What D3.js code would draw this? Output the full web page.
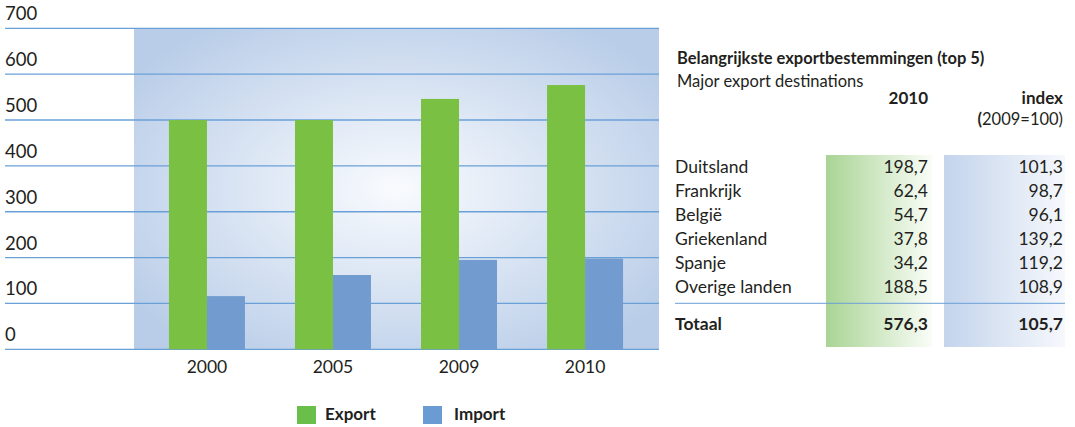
<!DOCTYPE html>
<html>
<head>
<meta charset="utf-8">
<script src="https://cdn.jsdelivr.net/npm/d3@7"></script>
<style>
  body { margin: 0; background: #fff; }
  text { font-family: Lato, "Open Sans", sans-serif; fill: #231f20; }
</style>
</head>
<body>
<script>
// chart data
var years = ["2000", "2005", "2009", "2010"];
var exportValues = [500, 500, 546, 576.3];
var importValues = [116, 162, 195, 198];
var yTicks = [0, 100, 200, 300, 400, 500, 600, 700];
var seriesNames = ["Export", "Import"];

// table data
var tableTitle = "Belangrijkste exportbestemmingen (top 5)";
var tableSubtitle = "Major export destinations";
var countries = ["Duitsland", "Frankrijk", "België", "Griekenland", "Spanje", "Overige landen"];
var values2010 = [198.7, 62.4, 54.7, 37.8, 34.2, 188.5];
var indexValues = [101.3, 98.7, 96.1, 139.2, 119.2, 108.9];
var totalLabel = "Totaal";
var total2010 = 576.3;
var totalIndex = 105.7;

var width = 1075, height = 427;
var colors = { Export: "#7ac143", Import: "#729ccf" };
var legendColors = { Export: "#6abf4b", Import: "#6b9bd3" };
var nl = d3.formatLocale({ decimal: ",", thousands: ".", grouping: [3], currency: ["€", ""] });
var fmt = nl.format(".1f");

var svg = d3.select("body").append("svg")
    .attr("width", width)
    .attr("height", height);

var defs = svg.append("defs");
var rg = defs.append("radialGradient").attr("id", "plotbg")
    .attr("cx", "50%").attr("cy", "50%").attr("r", "62%");
rg.append("stop").attr("offset", "0%").attr("stop-color", "#f9fbfe");
rg.append("stop").attr("offset", "100%").attr("stop-color", "#b9cde8");

var gg = defs.append("linearGradient").attr("id", "greencol");
gg.append("stop").attr("offset", "0%").attr("stop-color", "#a9d494");
gg.append("stop").attr("offset", "100%").attr("stop-color", "#fafdf8");
var bg = defs.append("linearGradient").attr("id", "bluecol");
bg.append("stop").attr("offset", "0%").attr("stop-color", "#c3d4ec");
bg.append("stop").attr("offset", "100%").attr("stop-color", "#f6f8fc");

// scales
var y = d3.scaleLinear().domain([0, 700]).range([349.3, 28.3]);
var x = d3.scaleBand().domain(years).range([144, 648])
    .paddingInner(0.397).paddingOuter(0.198);
var xs = d3.scaleBand().domain(seriesNames).range([0, x.bandwidth()]);

// plot background
svg.append("rect")
    .attr("x", 134).attr("y", y(700))
    .attr("width", 525).attr("height", y(0) - y(700))
    .attr("fill", "url(#plotbg)");

// gridlines and labels
var grid = svg.append("g");
grid.selectAll("line").data(yTicks).enter().append("line")
    .attr("x1", 5).attr("x2", 659)
    .attr("y1", function(d) { return y(d); })
    .attr("y2", function(d) { return y(d); })
    .attr("stroke", "#6aa0d8")
    .attr("stroke-width", 1.3);
grid.selectAll("text").data(yTicks).enter().append("text")
    .attr("x", 5)
    .attr("y", function(d) { return y(d) - 8; })
    .attr("font-size", 18.5)
    .text(function(d) { return d; });

// bars
var groups = svg.selectAll(".year").data(years).enter().append("g")
    .attr("transform", function(d) { return "translate(" + x(d) + ",0)"; });
groups.append("rect")
    .attr("x", xs("Export"))
    .attr("width", xs.bandwidth())
    .attr("y", function(d, i) { return y(exportValues[i]); })
    .attr("height", function(d, i) { return y(0) - y(exportValues[i]); })
    .attr("fill", colors.Export);
groups.append("rect")
    .attr("x", xs("Import"))
    .attr("width", xs.bandwidth())
    .attr("y", function(d, i) { return y(importValues[i]); })
    .attr("height", function(d, i) { return y(0) - y(importValues[i]); })
    .attr("fill", colors.Import);
groups.append("text")
    .attr("x", x.bandwidth() / 2)
    .attr("y", 373)
    .attr("text-anchor", "middle")
    .attr("font-size", 17.5)
    .text(function(d) { return d; });

// legend
var legendX = [297, 423];
var legend = svg.selectAll(".legend").data(seriesNames).enter().append("g")
    .attr("transform", function(d, i) { return "translate(" + legendX[i] + ",406)"; });
legend.append("rect")
    .attr("width", 19).attr("height", 18)
    .attr("fill", function(d) { return legendColors[d]; });
legend.append("text")
    .attr("x", function(d, i) { return i == 0 ? 28 : 31; })
    .attr("y", 14)
    .attr("font-size", 17)
    .attr("font-weight", "bold")
    .text(function(d) { return d; });

// table
var t = svg.append("g");
var col1 = 928, col2 = 1063, labelX = 675;
t.append("rect").attr("x", 826).attr("y", 155).attr("width", 106).attr("height", 192)
    .attr("fill", "url(#greencol)");
t.append("rect").attr("x", 944).attr("y", 155).attr("width", 121).attr("height", 192)
    .attr("fill", "url(#bluecol)");

t.append("text").attr("x", 677).attr("y", 64)
    .attr("font-size", 16.5).attr("font-weight", "bold")
    .text(tableTitle);
t.append("text").attr("x", 677).attr("y", 87)
    .attr("font-size", 16.5)
    .text(tableSubtitle);
t.append("text").attr("x", col1).attr("y", 104).attr("text-anchor", "end")
    .attr("font-size", 17).attr("font-weight", "bold").text("2010");
t.append("text").attr("x", col2).attr("y", 104).attr("text-anchor", "end")
    .attr("font-size", 17).attr("font-weight", "bold").text("index");
var paren = t.append("text").attr("x", col2).attr("y", 125).attr("text-anchor", "end")
    .attr("font-size", 16.5);
paren.append("tspan").attr("font-weight", "bold").text("(");
paren.append("tspan").text("2009=100)");

var rowY = d3.scaleLinear().domain([0, 1]).range([172.7, 196.7]);
var rows = t.selectAll(".row").data(countries).enter().append("g")
    .attr("transform", function(d, i) { return "translate(0," + rowY(i) + ")"; });
rows.append("text").attr("x", labelX).attr("font-size", 17.5)
    .text(function(d) { return d; });
rows.append("text").attr("x", col1).attr("text-anchor", "end").attr("font-size", 17.5)
    .text(function(d, i) { return fmt(values2010[i]); });
rows.append("text").attr("x", col2).attr("text-anchor", "end").attr("font-size", 17.5)
    .text(function(d, i) { return fmt(indexValues[i]); });

t.append("line").attr("x1", 675).attr("x2", 1065).attr("y1", 303.3).attr("y2", 303.3)
    .attr("stroke", "#6a9fd6").attr("stroke-width", 1);

t.append("text").attr("x", labelX).attr("y", 330).attr("font-size", 17.5)
    .attr("font-weight", "bold").text(totalLabel);
t.append("text").attr("x", col1).attr("y", 330).attr("text-anchor", "end").attr("font-size", 17.5)
    .attr("font-weight", "bold").text(fmt(total2010));
t.append("text").attr("x", col2).attr("y", 330).attr("text-anchor", "end").attr("font-size", 17.5)
    .attr("font-weight", "bold").text(fmt(totalIndex));
</script>
</body>
</html>
